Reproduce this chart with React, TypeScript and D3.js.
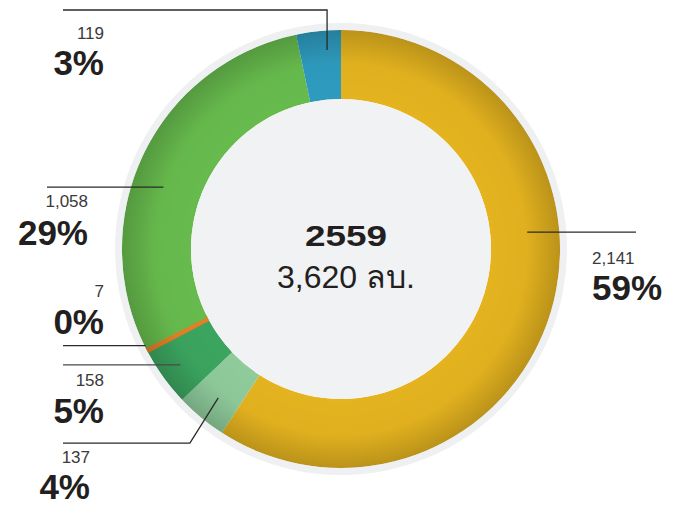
import React, { useEffect, useRef } from 'react';
import * as d3 from 'd3';

// slices clockwise from 12 o'clock
const values = [2141, 137, 158, 7, 1058, 119];
const valueLabels = ['2,141', '137', '158', '7', '1,058', '119'];
const pctLabels = ['59%', '4%', '5%', '0%', '29%', '3%'];
const colors = ['#e4b31f', '#8fcb9b', '#3ba55f', '#e57f25', '#67bb4d', '#2e9bbe'];

const yearLabel = '2559';
const totalLabel = '3,620 ลบ.';

const W = 683;
const H = 506;

// leader layout: where the line leaves the ring (deg, r), optional elbow, end x, and text placement
const leaders = [
  { a: 84.8, r: 187, elbow: null, endX: 636, tx: 592, anchor: 'start', ny: 264, py: 300 },
  { a: 219.5, r: 193, elbow: { a: 217.9, r: 246 }, endX: 63, tx: 90, anchor: 'end', ny: 463, py: 499 },
  { a: 234.2, r: 198, elbow: null, endX: 63, tx: 104, anchor: 'end', ny: 386, py: 423 },
  { a: 243.7, r: 218, elbow: null, endX: 63, tx: 104, anchor: 'end', ny: 297, py: 334 },
  { a: 289.2, r: 188, elbow: null, endX: 47, tx: 88, anchor: 'end', ny: 207, py: 245 },
  { a: 356, r: 199.5, elbow: { up: 10 }, endX: 63, tx: 104, anchor: 'end', ny: 39, py: 75 },
];

export default function App() {
  const svgRef = useRef<SVGSVGElement>(null);

  useEffect(() => {
    if (!svgRef.current) return;
    const svg = d3.select(svgRef.current);
    svg.selectAll('*').remove();

    const cx = 341;
    const cy = 249;
    const outerR = 219;
    const innerR = 150;
    const font = '"Liberation Sans", Arial, Helvetica, sans-serif';

    const ringPath = d3.arc()({ innerRadius: innerR, outerRadius: outerR, startAngle: 0, endAngle: Math.PI * 2 }) as string;

    const defs = svg.append('defs');
    const grad = defs
      .append('radialGradient')
      .attr('id', 'ringShade')
      .attr('gradientUnits', 'userSpaceOnUse')
      .attr('cx', 0)
      .attr('cy', 0)
      .attr('r', outerR);
    grad.append('stop').attr('offset', 0.68).attr('stop-color', '#000').attr('stop-opacity', 0);
    grad.append('stop').attr('offset', 0.85).attr('stop-color', '#000').attr('stop-opacity', 0.02);
    grad.append('stop').attr('offset', 1).attr('stop-color', '#000').attr('stop-opacity', 0.18);
    defs.append('clipPath').attr('id', 'ringClip').append('path').attr('d', ringPath);

    const g = svg.append('g').attr('transform', `translate(${cx},${cy})`);

    // background disc and halo
    g.append('circle').attr('r', outerR + 7).attr('fill', '#eef0f2');
    g.append('circle').attr('r', outerR).attr('fill', '#fff');
    g.append('circle').attr('r', innerR).attr('fill', '#f1f2f4');

    const pie = d3.pie<number>().value(d => d).sort(null);
    const arc = d3.arc<d3.PieArcDatum<number>>().innerRadius(innerR).outerRadius(outerR);
    const arcs = pie(values);

    // tiny slices get a stroke so they stay visible, clipped to the ring
    g.append('g')
      .attr('clip-path', 'url(#ringClip)')
      .selectAll('path.slice')
      .data(arcs)
      .enter()
      .append('path')
      .attr('class', 'slice')
      .attr('d', arc)
      .attr('fill', (d, i) => colors[i])
      .attr('stroke', (d, i) => (d.endAngle - d.startAngle < 0.03 ? colors[i] : 'none'))
      .attr('stroke-width', 4.5);

    g.append('path').attr('d', ringPath).attr('fill', 'url(#ringShade)');

    // leader lines
    const rad = (deg: number) => (deg * Math.PI) / 180;
    leaders.forEach((l, i) => {
      const [x0, y0] = d3.pointRadial(rad(l.a), l.r);
      const pts: [number, number][] = [[x0, y0]];
      let yEnd = y0;
      if (l.elbow && 'up' in l.elbow) {
        yEnd = (l.elbow as any).up - cy;
        pts.push([x0, yEnd]);
      } else if (l.elbow) {
        const e = l.elbow as { a: number; r: number };
        const [ex, ey] = d3.pointRadial(rad(e.a), e.r);
        pts.push([ex, ey]);
        yEnd = ey;
      }
      pts.push([l.endX - cx, yEnd]);
      g.append('path')
        .attr('d', d3.line()(pts) as string)
        .attr('fill', 'none')
        .attr('stroke', i === 2 ? '#4a4a4a' : '#2a2a2a')
        .attr('stroke-width', 1.3);

      svg
        .append('text')
        .attr('x', l.tx)
        .attr('y', l.ny)
        .attr('text-anchor', l.anchor)
        .attr('font-family', font)
        .attr('font-size', 17)
        .attr('fill', '#3a3a3a')
        .text(valueLabels[i]);

      svg
        .append('text')
        .attr('x', l.tx)
        .attr('y', l.py)
        .attr('text-anchor', l.anchor)
        .attr('font-family', font)
        .attr('font-size', 35)
        .attr('font-weight', 'bold')
        .attr('fill', '#231f20')
        .text(pctLabels[i]);
    });

    // centre text
    svg
      .append('text')
      .attr('x', 346)
      .attr('y', 246)
      .attr('text-anchor', 'middle')
      .attr('font-family', font)
      .attr('font-size', 29)
      .attr('font-weight', 'bold')
      .attr('fill', '#231f20')
      .attr('textLength', 82)
      .attr('lengthAdjust', 'spacingAndGlyphs')
      .text(yearLabel);

    svg
      .append('text')
      .attr('x', 346)
      .attr('y', 288)
      .attr('text-anchor', 'middle')
      .attr('font-family', font)
      .attr('font-size', 32)
      .attr('fill', '#231f20')
      .text(totalLabel);
  }, []);

  return (
    <svg
      ref={svgRef}
      width={W}
      height={H}
      style={{ position: 'absolute', left: 0, top: 0, background: '#fff' }}
    ></svg>
  );
}
